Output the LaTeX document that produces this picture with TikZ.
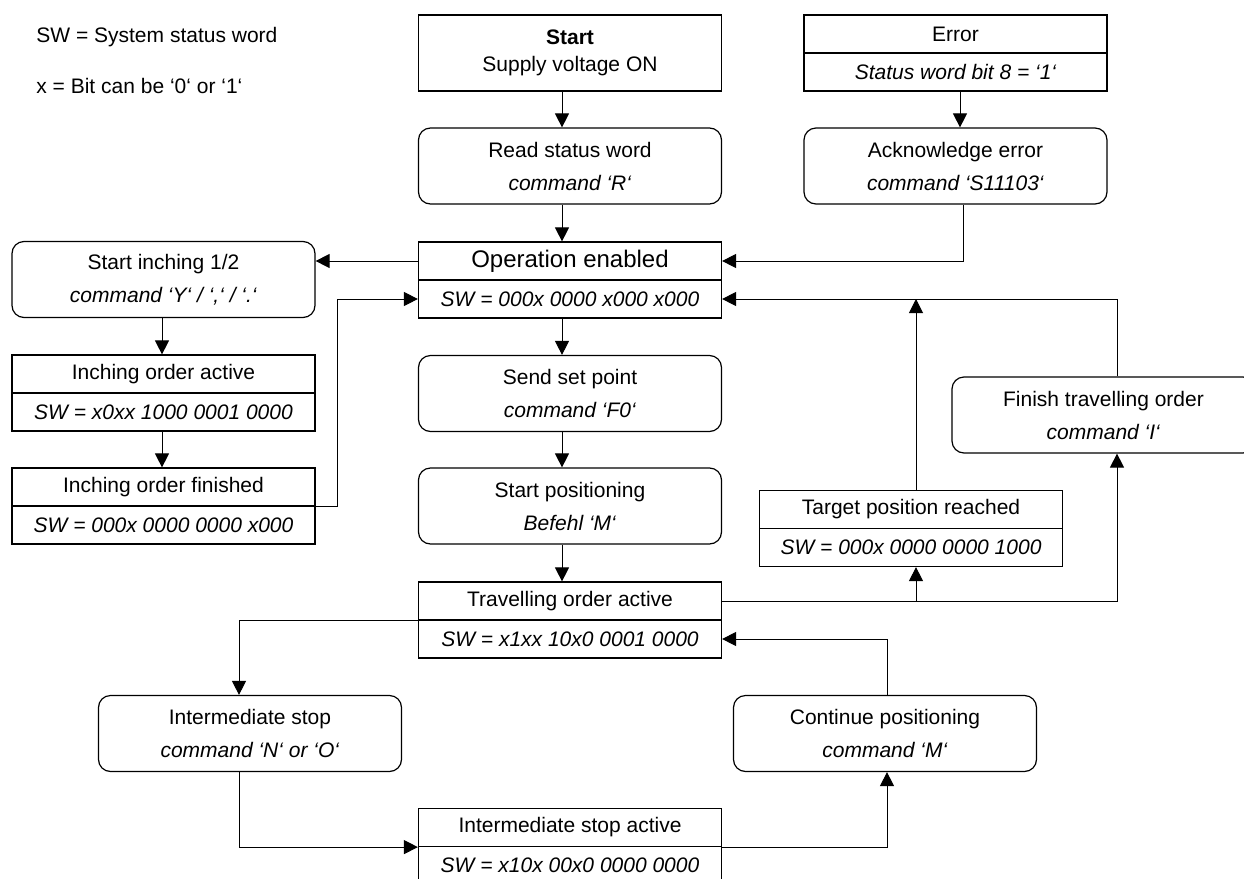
\documentclass[tikz,border=0pt]{standalone}
\usepackage{fontspec}
\setmainfont{Liberation Sans}
\usetikzlibrary{arrows.meta,positioning}
\newcommand{\boxfont}{\fontsize{10.5}{16.5}\selectfont}
\tikzset{
  box/.style={draw,line width=0.6pt,minimum width=151.5pt,minimum height=38pt,inner sep=0pt,align=center,font=\boxfont},
  cmdbox/.style={box,rounded corners=6pt},
  headbox/.style={draw,line width=0.6pt,minimum width=151.5pt,minimum height=19pt,inner sep=0pt,font=\boxfont},
  swbox/.style={headbox,font=\boxfont\itshape},
  flow/.style={line width=0.5pt,-{Triangle[length=7pt,width=7pt]}},
}

\begin{document}
\begin{tikzpicture}[x=0.5pt,y=-0.5pt]
  \useasboundingbox (0,0) rectangle (1244,879);
  \clip (0,0) rectangle (1244,879);
  % legend
  \node[anchor=west,font=\boxfont,inner sep=0pt] (legSW) at (36,37) {SW = System status word};
  \node[anchor=west,font=\boxfont,inner sep=0pt] (legX) at (36,86) {x = Bit can be ‘0‘ or ‘1‘};
  % columns of the connectors
  \coordinate (midcol) at (562,0);
  \coordinate (leftcol) at (162,0);
  \coordinate (errcol) at (960,0);
  \coordinate (tgtcol) at (916,0);
  \coordinate (fincol) at (1117,0);
  \coordinate (stopcol) at (239,0);
  \coordinate (contcol) at (887,0);
  % boxes
  \node[box,font=\fontsize{10.5}{13.5}\selectfont] (start) at (570,53) {\textbf{Start}\\Supply voltage ON};
  \node[cmdbox] (read) at (570,166) {Read status word\\\textit{command ‘R‘}};
  \node[headbox] (error) at (955.5,34) {Error};
  \node[swbox,below=-0.6pt of error] (errorSW) {Status word bit 8 = ‘1‘};
  \node[cmdbox] (ack) at (955.5,166) {Acknowledge error\\\textit{command ‘S11103‘}};
  \node[headbox,font=\fontsize{12}{14}\selectfont] (opEn) at (570,261) {Operation enabled};
  \node[swbox,below=-0.6pt of opEn] (opEnSW) {SW = 000x 0000 x000 x000};
  \node[cmdbox] (inch) at (163.5,279.5) {Start inching 1/2\\\textit{command ‘Y‘ / ‘,‘ / ‘.‘}};
  \node[headbox] (inchAct) at (163.5,374) {Inching order active};
  \node[swbox,below=-0.6pt of inchAct] (inchActSW) {SW = x0xx 1000 0001 0000};
  \node[headbox] (inchFin) at (163.5,487) {Inching order finished};
  \node[swbox,below=-0.6pt of inchFin] (inchFinSW) {SW = 000x 0000 0000 x000};
  \node[cmdbox] (send) at (570,393.5) {Send set point\\\textit{command ‘F0‘}};
  \node[cmdbox] (startPos) at (570,506) {Start positioning\\\textit{Befehl ‘M‘}};
  \node[headbox] (travel) at (570,601) {Travelling order active};
  \node[swbox,below=-0.6pt of travel] (travelSW) {SW = x1xx 10x0 0001 0000};
  \node[headbox] (target) at (911,509.5) {Target position reached};
  \node[swbox,below=-0.6pt of target] (targetSW) {SW = 000x 0000 0000 1000};
  \node[cmdbox] (finish) at (1103.5,415) {Finish travelling order\\\textit{command ‘I‘}};
  \node[cmdbox] (istop) at (250,733.5) {Intermediate stop\\\textit{command ‘N‘ or ‘O‘}};
  \node[cmdbox] (cont) at (885,733.5) {Continue positioning\\\textit{command ‘M‘}};
  \node[headbox] (isa) at (570,827.5) {Intermediate stop active};
  \node[swbox,below=-0.6pt of isa] (isaSW) {SW = x10x 00x0 0000 0000};
  % connectors
  \draw[flow] (start.south -| midcol) -- (read.north -| midcol);
  \draw[flow] (read.south -| midcol) -- (opEn.north -| midcol);
  \draw[flow] (errorSW.south -| errcol) -- (ack.north -| errcol);
  \draw[flow] ([xshift=4pt]ack.south) |- (opEn.east);
  \draw[flow] (opEn.west) -- (opEn.west -| inch.east);
  \draw[flow] (inch.south -| leftcol) -- (inchAct.north -| leftcol);
  \draw[flow] (inchActSW.south -| leftcol) -- (inchFin.north -| leftcol);
  \draw[flow] (inchFin.south east) -- ++(22,0) |- (opEnSW.west);
  \draw[flow] (opEnSW.south -| midcol) -- (send.north -| midcol);
  \draw[flow] (send.south -| midcol) -- (startPos.north -| midcol);
  \draw[flow] (startPos.south -| midcol) -- (travel.north -| midcol);
  \draw[flow] (travel.east) -| (finish.south -| fincol);
  \draw[flow] (travel.east -| tgtcol) -- (targetSW.south -| tgtcol);
  \draw[flow] (finish.north -| fincol) |- (opEnSW.east);
  \draw[flow] (target.north -| tgtcol) -- (opEnSW.east -| tgtcol);
  \draw[flow] (travel.south west) -| (istop.north -| stopcol);
  \draw[flow] (istop.south -| stopcol) |- (isa.south west);
  \draw[flow] (isa.south east) -| (cont.south -| contcol);
  \draw[flow] (cont.north -| contcol) |- (travelSW.east);
\end{tikzpicture}
\end{document}
